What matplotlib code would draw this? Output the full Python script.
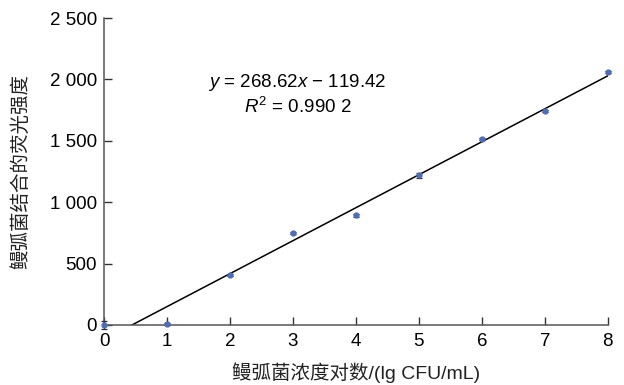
import matplotlib
matplotlib.use("Agg")
import matplotlib.pyplot as plt
import numpy as np

plt.rcParams['font.family'] = ['Liberation Sans', 'Noto Sans CJK SC', 'DejaVu Sans']
plt.rcParams['mathtext.fontset'] = 'custom'
plt.rcParams['mathtext.rm'] = 'Liberation Sans'
plt.rcParams['mathtext.it'] = 'Liberation Sans:italic'

# Data
log_conc = [0, 1, 2, 3, 4, 5, 6, 7, 8]
intensity = [0, 10, 407, 749, 895, 1221, 1515, 1743, 2060]
errors = [35, 8, 10, 8, 12, 20, 10, 8, 8]
slope = 268.62
intercept = -119.42
yticks = [0, 500, 1000, 1500, 2000, 2500]
ytick_labels = ['0', '500', '1 000', '1 500', '2 000', '2 500']
xticks = [0, 1, 2, 3, 4, 5, 6, 7, 8]

fig = plt.figure(figsize=(6.24, 3.85), dpi=100)
ax = fig.add_axes([0.1667, 0.156, 0.8073, 0.797])

x0 = -intercept / slope
xf = np.array([x0, 8])
ax.plot(xf, slope * xf + intercept, color='black', lw=1.1, zorder=2)

ax.errorbar(log_conc, intensity, yerr=errors, fmt='o', ms=3.5,
            color='#4f6db3', ecolor='#2b2b45', elinewidth=0.9, capsize=2.5,
            capthick=0.9, zorder=3, clip_on=False)

ax.set_xlim(0, 8)
ax.set_ylim(0, 2500)
ax.set_xticks(xticks)
ax.set_yticks(yticks)
ax.set_yticklabels(ytick_labels)

for s in ['top', 'right']:
    ax.spines[s].set_visible(False)
for s in ['left', 'bottom']:
    ax.spines[s].set_color('#555555')
    ax.spines[s].set_linewidth(1.1)

ax.tick_params(direction='in', length=6, width=1.0, color='#333333',
               labelsize=13.5, pad=5)
ax.tick_params(axis='x', pad=6)

lab_font = ['Liberation Sans', 'Noto Sans CJK SC', 'DejaVu Sans']
ax.set_xlabel('鳗弧菌浓度对数/(lg CFU/mL)', fontsize=14, color='#222222',
              labelpad=9, family=lab_font, fontweight='light')
ax.set_ylabel('鳗弧菌结合的荧光强度', fontsize=14, color='#222222',
              labelpad=14, family=lab_font, fontweight='light')

ax.text(3.07, 1979, r'$y$ = 268.62$x$ − 119.42', ha='center', va='center', fontsize=13.5)
ax.text(3.07, 1775, r'$R^2$ = 0.990 2', ha='center', va='center', fontsize=13.5)

fig.savefig('out.png', dpi=100)
